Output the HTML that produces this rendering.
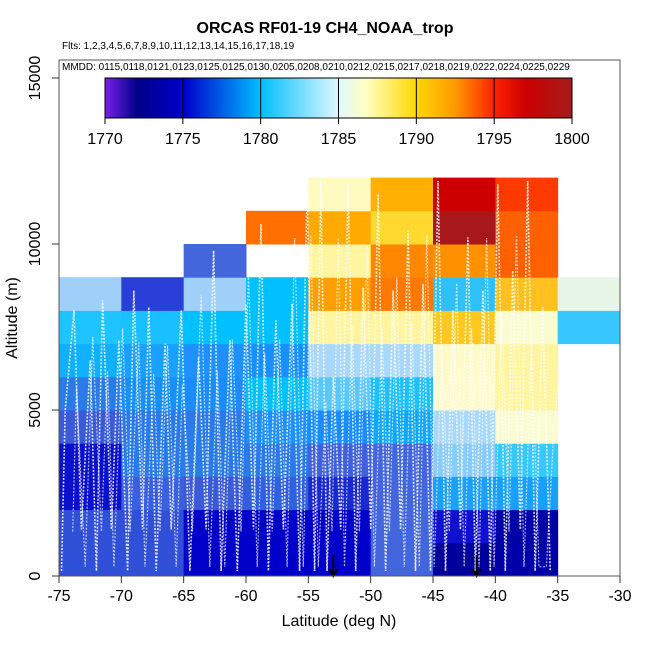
<!DOCTYPE html>
<html><head><meta charset="utf-8">
<style>
body{margin:0;background:#fff;}
svg{display:block;font-family:"Liberation Sans",sans-serif;}
</style></head>
<body>
<svg id="c" width="650" height="650"></svg>
<script>
const latEdges=[-75,-70,-65,-60,-55,-50,-45,-40,-35,-30];
const altEdges=[0,1000,2000,3000,4000,5000,6000,7000,8000,9000,10000,11000,12000];
// cell colors per column (lat bin), rows bottom-up (0-1km ... 11-12km); null = no data
const col0=["#3050d8","#3050d8","#0a10cc","#0a10cc","#3a5ad8","#2a7ae8","#10b0ff","#1ec4ff","#a0d0fa",null,null,null];
const col1=["#3050d8","#3050d8","#3a60e0","#2a7ae8","#2a7ae8","#1890f8","#1aa0ff","#18c0ff","#2a3ed8",null,null,null];
const col2=["#0000c8","#0000c8","#3a5ad8","#2a7ae8","#2a7ae8","#1a8cff","#1e90ff","#00c0ff","#a0d0fa","#4466dd",null,null];
const col3=["#0000c8","#0000c8","#3060e0","#2a7ae8","#1e90ff","#00c0ff","#1890ff","#00c0ff","#00c0ff",null,"#ff7000",null];
const col4=["#0000c8","#0000c8","#1a28d0","#4060dc","#1a8cff","#5ac8ff","#aad8fa","#fff5a0","#ffa000","#fff5a0","#ffaa00","#fffac0"];
const col5=["#4466dd","#4466dd","#4466dd","#4466dd","#10a8ff","#1ec0ff","#aad8fa","#fff5a0","#ff7800","#ff8800","#ffd830","#ffb000"];
const col6=["#00009a","#1010d0","#1aa0ff","#88ccff","#aad8fa","#fffacc","#fffac8","#ffc820","#30c0f8","#ff9000","#a8181a","#cc0000"];
const col7=["#0000a8","#0000a8","#18a0ff","#38c8ff","#f8fcd0","#fff5a0","#fff5a0","#f8fcd0","#ffc020","#ff6000","#ff6000","#ff3a00"];
const col8=[null,null,null,null,null,null,null,"#38c8ff","#e8f6e8",null,null,null];
const cols=[col0,col1,col2,col3,col4,col5,col6,col7,col8];
const xTicks=[-75,-70,-65,-60,-55,-50,-45,-40,-35,-30];
const yTicks=[0,5000,10000,15000];
const cbTicks=[1770,1775,1780,1785,1790,1795,1800];
const arrowLats=[-53,-41.5];
// flight-track (lat, alt m) estimates
const trackLat=[-74.8,-74.5,-73.8,-73.2,-72.5,-72,-71.5,-70.8,-70.2,-69.5,-69,-68.3,-67.8,-67.2,-66.5,-66,-65.2,-64.5,-63.8,-63.2,-62.6,-62,-61.3,-60.7,-60,-59.4,-58.8,-58.2,-57.6,-57,-56.3,-55.7,-55.1,-54.5,-54,-53.5,-53,-52.4,-51.8,-51.2,-50.6,-50,-49.4,-48.8,-48.2,-47.6,-47,-46.4,-45.8,-45.2,-44.6,-44,-43.4,-42.8,-42.2,-41.6,-41,-40.4,-39.8,-39.2,-38.6,-38,-37.4,-36.8,-36.2,-35.6];
const trackAlt=[150,5000,8000,1400,6500,150,8300,1400,7100,150,8600,1400,8100,150,7000,1400,8000,150,6600,1400,9800,150,7100,150,8200,1400,10600,150,7700,1400,8200,150,11800,150,11900,150,6000,1400,11800,150,8700,1400,11500,150,8600,1400,10400,150,8800,150,11900,150,8000,1400,10200,150,8600,150,11800,150,9200,1400,11900,150,8100,150];
const NS="http://www.w3.org/2000/svg";
const svg=document.getElementById('c');
const X0=59,X1=620,Y0=576,Y15=78;
function sx(v){return X0+(v+75)/45*(X1-X0);}
function sy(v){return Y0-v/15000*(Y0-Y15);}
function mk(t,a,p){const e=document.createElementNS(NS,t);for(const k in a)e.setAttribute(k,a[k]);(p||svg).appendChild(e);return e;}
// cells
const gCells=mk('g',{});


cols.forEach((c,i)=>c.forEach((col,j)=>{if(!col)return;
 const x=sx(latEdges[i]),x2=sx(latEdges[i+1]),y=sy(altEdges[j+1]),y2=sy(altEdges[j]);
 const r=mk('rect',{x:x,y:y,width:x2-x+0.5,height:y2-y+0.5,fill:col},gCells);
 
 
}));
// tracks
let pts=trackLat.map((v,i)=>sx(v).toFixed(1)+','+sy(trackAlt[i]).toFixed(1)).join(' ');
const tr=mk('polyline',{points:pts,fill:'none',stroke:'#fff','stroke-width':1.6,'stroke-dasharray':'2 1.5',opacity:0.85});


const tr2=mk('polyline',{points:trackLat.map((v,i)=>sx(v+0.9).toFixed(1)+','+sy(trackAlt[(i+3)%trackAlt.length]*0.85+150).toFixed(1)).join(' '),fill:'none',stroke:'#fff','stroke-width':1.2,'stroke-dasharray':'2 1.5',opacity:0.7});


// arrows
arrowLats.forEach(a=>{const x=sx(a);
 const g=mk('g',{stroke:'#000','stroke-width':2,fill:'none'});
 
 
 mk('line',{x1:x,y1:555,x2:x,y2:576},g);
 mk('polyline',{points:(x-4)+',569 '+x+',576 '+(x+4)+',569'},g);
});
// box
const box=mk('rect',{x:X0,y:60,width:X1-X0,height:Y0-60,fill:'none',stroke:'#555','stroke-width':1});


// axes ticks
xTicks.forEach(t=>{const x=sx(t);
 mk('line',{x1:x,y1:Y0,x2:x,y2:Y0+7,stroke:'#333'});
 const tx=mk('text',{x:x,y:601,'text-anchor':'middle','font-size':16,fill:'#000'});tx.textContent=t;
 
 
});
yTicks.forEach(t=>{const y=sy(t);
 mk('line',{x1:X0,y1:y,x2:X0-7,y2:y,stroke:'#333'});
 const tx=mk('text',{x:0,y:0,'text-anchor':'middle','font-size':16,fill:'#000',transform:`translate(40,${y}) rotate(-90)`});tx.textContent=t;
 
 
});
// colorbar
const CB0=105,CB1=572;
const defs=mk('defs',{});
const lg=mk('linearGradient',{id:'cb',x1:0,x2:1,y1:0,y2:0},defs);
[[0,'#7a20e8'],[0.07,'#000088'],[0.17,'#0000cc'],[0.333,'#00bfff'],[0.5,'#e0f8ff'],[0.56,'#ffffc0'],[0.667,'#ffd700'],[0.75,'#ff9900'],[0.833,'#ff2200'],[0.9,'#cc0000'],[1,'#a51c1c']].forEach(s=>mk('stop',{offset:s[0],'stop-color':s[1]},lg));
const cb=mk('rect',{x:CB0,y:78,width:CB1-CB0,height:40,fill:'url(#cb)',stroke:'#000'});


cbTicks.forEach(t=>{const x=CB0+(t-1770)/30*(CB1-CB0);
 mk('line',{x1:x,y1:78,x2:x,y2:124,stroke:'#000'});
 const tx=mk('text',{x:x,y:144,'text-anchor':'middle','font-size':16,fill:'#000'});tx.textContent=t;
 
 
});
</script>
<svg width="0" height="0"></svg>
<div style="position:absolute;left:0;top:0;width:650px;height:650px;pointer-events:none;font-family:'Liberation Sans',sans-serif;">
<div style="position:absolute;left:0;width:650px;top:20px;text-align:center;font-weight:bold;font-size:16px;">ORCAS RF01-19 CH4_NOAA_trop</div>
<div style="position:absolute;left:62px;top:41px;font-size:10px;">Flts: 1,2,3,4,5,6,7,8,9,10,11,12,13,14,15,16,17,18,19</div>
<div style="position:absolute;left:62px;top:62px;font-size:10px;">MMDD: 0115,0118,0121,0123,0125,0125,0130,0205,0208,0210,0212,0215,0217,0218,0219,0222,0224,0225,0229</div>
<div style="position:absolute;left:0;width:678px;top:613px;text-align:center;font-size:16px;">Latitude (deg N)</div>
<div style="position:absolute;left:-42px;top:309px;width:110px;text-align:center;font-size:16px;transform:rotate(-90deg);">Altitude (m)</div>
</div>
</body></html>
